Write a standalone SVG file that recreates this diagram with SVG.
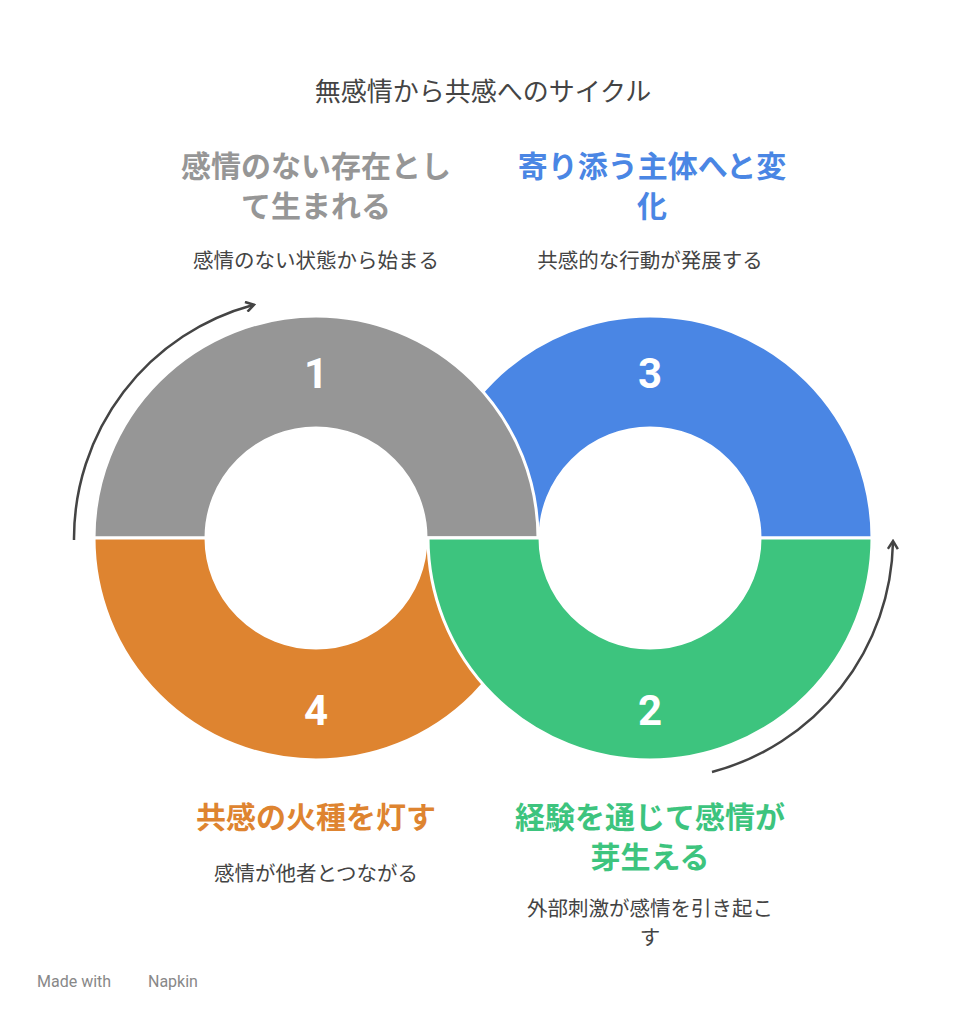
<svg xmlns="http://www.w3.org/2000/svg" width="967" height="1024" viewBox="0 0 967 1024">
<style>
text{font-family:"Noto Sans CJK JP","Noto Sans",sans-serif;text-anchor:middle}
.t{font-size:26px;fill:#444}
.h{font-size:30px;font-weight:bold}
.d{font-size:20.5px;fill:#444}
.n{font-size:42px;font-weight:bold;fill:#fff;font-family:Roboto,"Liberation Sans",sans-serif}
.seg{stroke:#fff;stroke-width:3}
.arr{fill:none;stroke:#444;stroke-width:2.5;marker-end:url(#ah)}
.f{font-size:16px;fill:#888;font-family:Roboto,sans-serif;text-anchor:start}
</style>
<defs><marker id="ah" viewBox="0 0 12 12" refX="9" refY="6" markerWidth="12" markerHeight="12" markerUnits="userSpaceOnUse" orient="auto"><path d="M2 1 L10 6 L2 11" fill="none" stroke="#444" stroke-width="2.5"/></marker></defs>
<rect width="967" height="1024" fill="#fff"/>
<text class="t" x="483" y="101">無感情から共感へのサイクル</text>
<g id="node3"><path class="seg" fill="#4a86e4" d="M428 538 A222 222 0 0 1 872 538 L760 538 A110 110 0 0 0 540 538 Z"/><text class="n" x="650" y="388">3</text>
<text class="h" x="652" y="177" fill="#4a86e4">寄り添う主体へと変</text><text class="h" x="652" y="217" fill="#4a86e4">化</text><text class="d" x="650" y="268">共感的な行動が発展する</text></g>
<g id="node1"><path class="seg" fill="#969696" d="M94 538 A222 222 0 0 1 538 538 L426 538 A110 110 0 0 0 206 538 Z"/><text class="n" x="316" y="388">1</text>
<text class="h" x="316" y="177" fill="#969696">感情のない存在とし</text><text class="h" x="316" y="217" fill="#969696">て生まれる</text><text class="d" x="316" y="268">感情のない状態から始まる</text></g>
<g id="node4"><path class="seg" fill="#de8430" d="M94 538 A222 222 0 0 0 538 538 L426 538 A110 110 0 0 1 206 538 Z"/><text class="n" x="316" y="725">4</text>
<text class="h" x="316" y="828" fill="#de8430">共感の火種を灯す</text><text class="d" x="316" y="881">感情が他者とつながる</text></g>
<g id="node2"><path class="seg" fill="#3dc47e" d="M428 538 A222 222 0 0 0 872 538 L760 538 A110 110 0 0 1 540 538 Z"/><text class="n" x="650" y="725">2</text>
<text class="h" x="650" y="828" fill="#3dc47e">経験を通じて感情が</text><text class="h" x="650" y="868" fill="#3dc47e">芽生える</text><text class="d" x="650" y="916">外部刺激が感情を引き起こ</text><text class="d" x="650" y="945">す</text></g>
<g id="connectors"><path class="arr" d="M74 540 A242 242 0 0 1 253 305"/><path class="arr" d="M712 772 A243 243 0 0 0 893 542"/></g>
<text class="f" x="37" y="987">Made with</text>
<text class="f" x="148" y="987">Napkin</text>
</svg>
